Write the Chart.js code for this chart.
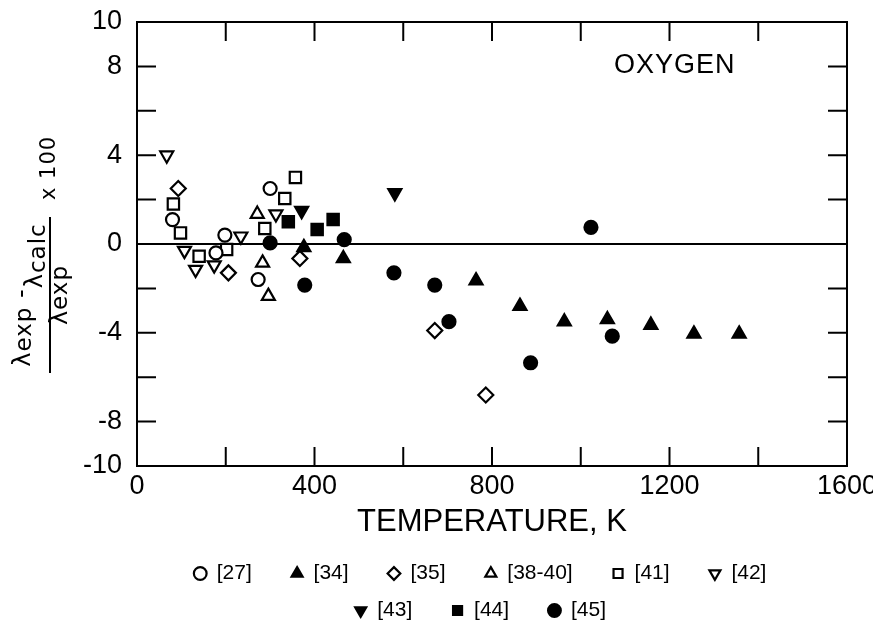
<!DOCTYPE html>
<html>
<head>
<meta charset="utf-8">
<script src="https://cdn.jsdelivr.net/npm/chart.js@4.4.1/dist/chart.umd.min.js"></script>
<style>
  html, body { margin: 0; padding: 0; background: #fff; }
</style>
</head>
<body>
<canvas id="oxygenChart" width="873" height="622"></canvas>
<script>
// Temperatures (K) and deviations (%), one pair per source
const t27 = [80, 178, 198, 273, 300];
const d27 = [1.1, -0.4, 0.4, -1.6, 2.5];
const t34 = [376, 465, 764, 863, 963, 1060, 1158, 1255, 1357];
const d34 = [-0.15, -0.65, -1.65, -2.8, -3.5, -3.4, -3.65, -4.05, -4.05];
const t35 = [93, 206, 367, 671, 786];
const d35 = [2.5, -1.3, -0.65, -3.9, -6.8];
const t38 = [271, 283, 296];
const d38 = [1.35, -0.85, -2.35];
const t41 = [82, 98, 140, 202, 288, 333, 357];
const d41 = [1.8, 0.5, -0.55, -0.25, 0.7, 2.05, 3.0];
const t42 = [67, 107, 132, 174, 234, 313];
const d42 = [4.0, -0.3, -1.15, -0.95, 0.35, 1.35];
const t43 = [371, 581];
const d43 = [1.5, 2.3];
const t44 = [341, 406, 442];
const d44 = [1.0, 0.65, 1.1];
const t45 = [300, 378, 467, 579, 671, 703, 887, 1023, 1071];
const d45 = [0.05, -1.85, 0.2, -1.3, -1.85, -3.5, -5.35, 0.75, -4.15];

// Tick values that carry a label (the others only get a tick mark)
const xTickLabels = [0, 400, 800, 1200, 1600];
const yTickLabels = [10, 8, 4, 0, -4, -8, -10];

const toPoints = (ts, ds) => ts.map((t, i) => ({ x: t, y: ds[i] }));

// open / filled marker helper
function series(label, ts, ds, style, filled, radius, rotation) {
  return {
    label: label,
    data: toPoints(ts, ds),
    pointStyle: style,
    pointRadius: radius,
    pointHoverRadius: radius,
    pointRotation: rotation || 0,
    backgroundColor: filled ? '#000' : '#fff',
    borderColor: '#000',
    borderWidth: 2.2
  };
}

// frame, inward tick marks and the OXYGEN label
const frameTicks = {
  id: 'frameTicks',
  afterDraw(chart) {
    const { ctx, chartArea: a, scales: { x, y } } = chart;
    const len = 19;
    ctx.save();
    ctx.strokeStyle = '#000';
    ctx.lineWidth = 2;
    ctx.strokeRect(a.left, a.top, a.right - a.left, a.bottom - a.top);
    ctx.beginPath();
    x.ticks.forEach(t => {
      const px = x.getPixelForValue(t.value);
      ctx.moveTo(px, a.bottom); ctx.lineTo(px, a.bottom - len);
      ctx.moveTo(px, a.top); ctx.lineTo(px, a.top + len);
    });
    y.ticks.forEach(t => {
      const py = y.getPixelForValue(t.value);
      ctx.moveTo(a.left, py); ctx.lineTo(a.left + len, py);
      ctx.moveTo(a.right, py); ctx.lineTo(a.right - len, py);
    });
    ctx.stroke();

    ctx.fillStyle = '#000';
    ctx.font = '27px "Liberation Sans"';
    ctx.textAlign = 'left';
    ctx.textBaseline = 'alphabetic';
    ctx.letterSpacing = '1px';
    ctx.fillText('OXYGEN', x.getPixelForValue(1075), y.getPixelForValue(7.7));
    ctx.letterSpacing = '0px';
    ctx.restore();
  }
};

// y axis title: (λexp - λcalc) / λexp x 100, written rotated
const yTitle = {
  id: 'yTitle',
  afterDraw(chart) {
    const ctx = chart.ctx;
    const cx = 50, cy = 295;
    const runWidth = parts => parts.reduce((w, p) => {
      ctx.font = p.size + 'px "DejaVu Sans"';
      return w + ctx.measureText(p.text).width;
    }, 0);
    const drawRun = (parts, u) => {
      parts.forEach(p => {
        ctx.font = p.size + 'px "DejaVu Sans"';
        ctx.fillText(p.text, u, p.v);
        u += ctx.measureText(p.text).width;
      });
    };
    const numer = [
      { text: 'λ', size: 24, v: -20 },
      { text: 'exp', size: 23, v: -19 },
      { text: ' -', size: 24, v: -21 },
      { text: 'λ', size: 24, v: -8 },
      { text: 'calc', size: 23, v: -5 }
    ];
    const denom = [
      { text: 'λ', size: 24, v: 17 },
      { text: 'exp', size: 23, v: 17 }
    ];
    const times = [{ text: 'x 100', size: 21, v: 5 }];

    ctx.save();
    ctx.translate(cx, cy);
    ctx.rotate(-Math.PI / 2);
    ctx.fillStyle = '#000';
    ctx.textAlign = 'left';
    ctx.textBaseline = 'alphabetic';
    ctx.letterSpacing = '1px';
    const nw = runWidth(numer);
    drawRun(numer, -nw / 2);
    const dw = runWidth(denom);
    drawRun(denom, -dw / 2);
    drawRun(times, 95);
    ctx.letterSpacing = '0px';

    ctx.strokeStyle = '#000';
    ctx.lineWidth = 2;
    ctx.beginPath();
    ctx.moveTo(-78, 0);
    ctx.lineTo(78, 0);
    ctx.stroke();
    ctx.restore();
  }
};

const ctx = document.getElementById('oxygenChart').getContext('2d');
new Chart(ctx, {
  type: 'scatter',
  data: {
    datasets: [
      series('[27]', t27, d27, 'circle', false, 6.5),
      series('[34]', t34, d34, 'triangle', true, 7.5),
      series('[35]', t35, d35, 'rectRot', false, 7.5),
      series('[38-40]', t38, d38, 'triangle', false, 7.5),
      series('[41]', t41, d41, 'rect', false, 8),
      series('[42]', t42, d42, 'triangle', false, 7.5, 180),
      series('[43]', t43, d43, 'triangle', true, 7.5, 180),
      series('[44]', t44, d44, 'rect', true, 8),
      series('[45]', t45, d45, 'circle', true, 6.5)
    ]
  },
  options: {
    responsive: false,
    animation: false,
    layout: { padding: { top: 22, right: 26, bottom: -9, left: 0 } },
    plugins: {
      tooltip: { enabled: false },
      legend: {
        position: 'bottom',
        fullSize: false,
        labels: {
          usePointStyle: true,
          boxWidth: 12,
          boxHeight: 9,
          padding: 16,
          color: '#000',
          font: { family: 'Liberation Sans', size: 21 },
          generateLabels: chart => Chart.defaults.plugins.legend.labels.generateLabels(chart)
            .map(item => ({ ...item, text: item.text + '    ' }))
        }
      }
    },
    scales: {
      x: {
        type: 'linear',
        min: 0,
        max: 1600,
        border: { display: false },
        grid: { display: false, drawTicks: false, tickLength: 0 },
        ticks: {
          stepSize: 200,
          autoSkip: false,
          maxRotation: 0,
          padding: 7,
          color: '#000',
          font: { family: 'Liberation Sans', size: 27, lineHeight: 1 },
          callback: v => xTickLabels.includes(v) ? String(v) : ''
        },
        title: {
          display: true,
          text: 'TEMPERATURE, K',
          color: '#000',
          font: { family: 'Liberation Sans', size: 31, lineHeight: 1 },
          padding: { top: 4, bottom: 9 }
        },
        afterFit: scale => {
          scale.paddingLeft = 0;
          scale.paddingRight = 0;
          scale.height = 81;
        }
      },
      y: {
        type: 'linear',
        min: -10,
        max: 10,
        border: { display: false },
        grid: {
          drawTicks: false,
          color: c => c.tick && c.tick.value === 0 ? '#000' : 'rgba(0,0,0,0)',
          lineWidth: c => c.tick && c.tick.value === 0 ? 2 : 0
        },
        ticks: {
          stepSize: 2,
          autoSkip: false,
          padding: 15,
          color: '#000',
          font: { family: 'Liberation Sans', size: 27, lineHeight: 1 },
          callback: v => yTickLabels.includes(v) ? String(v) : ''
        },
        afterFit: scale => {
          scale.width = 137;
          scale.paddingTop = 0;
          scale.paddingBottom = 0;
        }
      }
    }
  },
  plugins: [frameTicks, yTitle]
});
</script>
</body>
</html>
